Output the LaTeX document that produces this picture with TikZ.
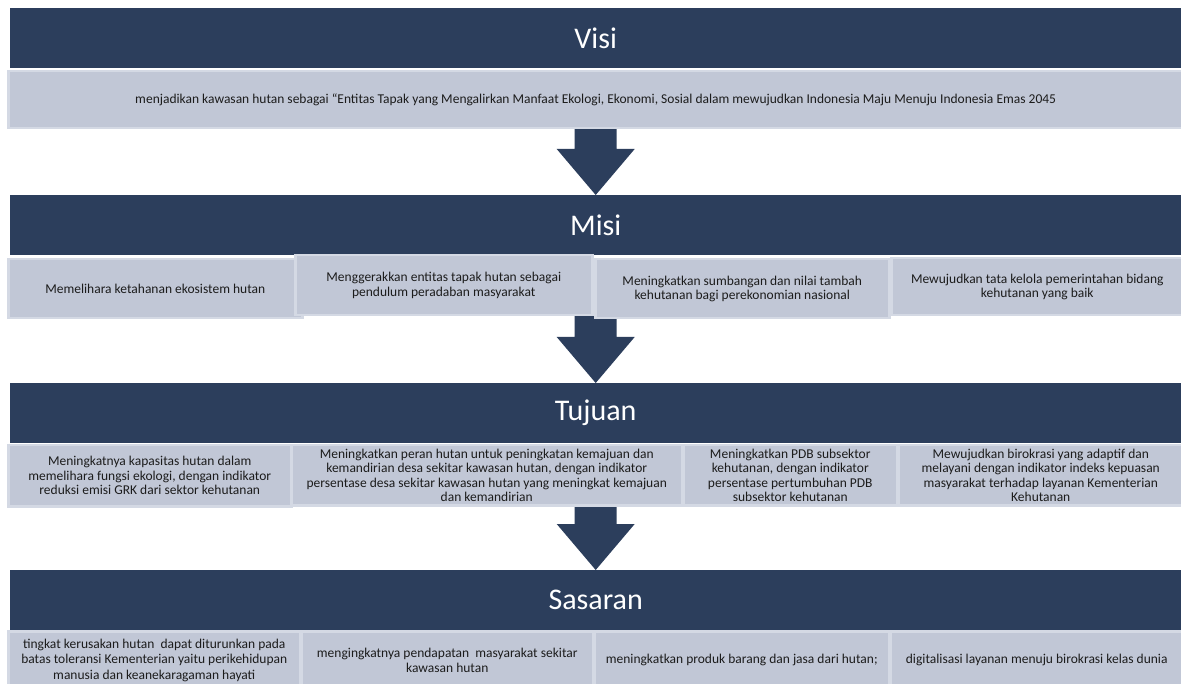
\documentclass[tikz,border=0pt]{standalone}
\usepackage{fontspec}
\setmainfont{Carlito}
\usetikzlibrary{calc,backgrounds}
\definecolor{hdr}{RGB}{44,62,92}
\definecolor{boxfill}{RGB}{193,199,214}
\definecolor{boxedge}{RGB}{212,217,228}
\definecolor{txt}{RGB}{28,28,28}
\tikzset{
  header/.style={fill=hdr, draw=none, anchor=north west, inner sep=0pt,
    minimum width=1171pt, minimum height=60pt, text=white,
    font=\fontsize{30}{36}\selectfont},
  item/.style={fill=boxfill, draw=boxedge, line width=2.5pt, anchor=north west,
    inner sep=0pt, text=txt, align=center,
    font=\fontsize{13.5}{14.5}\selectfont},
  blockarrow/.style={fill=hdr, draw=none}
}
\newcommand\downarrowblock[2]{%
  \fill[blockarrow] ($(#1.south -| #2.north)+(-21pt,4pt)$)
    -- ($(#1.south -| #2.north)+(21pt,4pt)$)
    -- ($(#2.north)+(21pt,46pt)$) -- ($(#2.north)+(39pt,46pt)$)
    -- (#2.north)
    -- ($(#2.north)+(-39pt,46pt)$) -- ($(#2.north)+(-21pt,46pt)$) -- cycle;}
\begin{document}
\begin{tikzpicture}[x=1pt,y=-1pt]
\useasboundingbox (0,0) rectangle (1181,684);

% Visi
\node[header] (visiH) at (10,8) {Visi};
\node[item, minimum width=1175pt, minimum height=57pt] (visiB) at (7,70)
  {menjadikan kawasan hutan sebagai “Entitas Tapak yang Mengalirkan Manfaat Ekologi, Ekonomi, Sosial dalam mewujudkan Indonesia Maju Menuju Indonesia Emas 2045};

% Misi
\node[header] (misiH) at (10,195) {Misi};
\node[item, minimum width=294pt, minimum height=59pt] (misi1) at (7,258)
  {Memelihara ketahanan ekosistem hutan};
\node[item, minimum width=297pt, minimum height=60pt] (misi2) at (294,254)
  {Menggerakkan entitas tapak hutan sebagai\\pendulum peradaban masyarakat};
\node[item, minimum width=294pt, minimum height=59pt] (misi3) at (594,258)
  {Meningkatkan sumbangan dan nilai tambah\\kehutanan bagi perekonomian nasional};
\node[item, minimum width=292pt, minimum height=57pt] (misi4) at (890,257)
  {Mewujudkan tata kelola pemerintahan bidang\\kehutanan yang baik};

% Tujuan
\node[header] (tujH) at (10,383) {Tujuan};
\node[item, minimum width=283pt, minimum height=61pt] (tuj1) at (7,444)
  {Meningkatnya kapasitas hutan dalam\\memelihara fungsi ekologi, dengan indikator\\reduksi emisi GRK dari sektor kehutanan};
\node[item, minimum width=391pt, minimum height=60pt] (tuj2) at (290,444)
  {Meningkatkan peran hutan untuk peningkatan kemajuan dan\\kemandirian desa sekitar kawasan hutan, dengan indikator\\persentase desa sekitar kawasan hutan yang meningkat kemajuan\\dan kemandirian};
\node[item, minimum width=214pt, minimum height=60pt] (tuj3) at (682,444)
  {Meningkatkan PDB subsektor\\kehutanan, dengan indikator\\persentase pertumbuhan PDB\\subsektor kehutanan};
\node[item, minimum width=285pt, minimum height=60pt] (tuj4) at (897,444)
  {Mewujudkan birokrasi yang adaptif dan\\melayani dengan indikator indeks kepuasan\\masyarakat terhadap layanan Kementerian\\Kehutanan};

% Sasaran
\node[header] (sasH) at (10,570) {Sasaran};
\node[item, minimum width=292pt, minimum height=58pt, font=\fontsize{13.5}{15.5}\selectfont] (sas1) at (7,630)
  {tingkat kerusakan hutan~ dapat diturunkan pada\\batas toleransi Kementerian yaitu perikehidupan\\manusia dan keanekaragaman hayati};
\node[item, minimum width=292pt, minimum height=58pt, font=\fontsize{13.5}{15.5}\selectfont] (sas2) at (300,630)
  {mengingkatnya pendapatan~ masyarakat sekitar\\kawasan hutan};
\node[item, minimum width=295pt, minimum height=58pt] (sas3) at (593,630)
  {meningkatkan produk barang dan jasa dari hutan;};
\node[item, minimum width=293pt, minimum height=58pt] (sas4) at (889,630)
  {digitalisasi layanan menuju birokrasi kelas dunia};

% connectors (behind the boxes)
\begin{scope}[on background layer]
\fill[white] (0,0) rectangle (1181,684);
\downarrowblock{visiB}{misiH}
\downarrowblock{misi2}{tujH}
\downarrowblock{tuj2}{sasH}
\end{scope}
\end{tikzpicture}
\end{document}
